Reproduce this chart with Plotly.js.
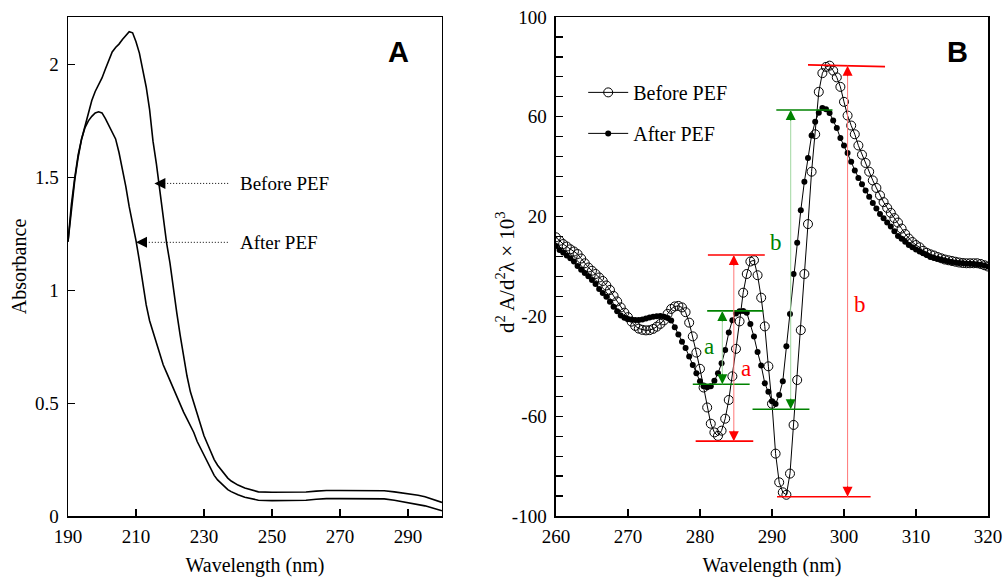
<!DOCTYPE html>
<html>
<head>
<meta charset="utf-8">
<script src="https://cdn.plot.ly/plotly-3.0.1.min.js"></script>
<style>html,body{margin:0;padding:0;background:#fff;}</style>
</head>
<body>
<div id="chart" style="width:1005px;height:577px;"></div>
<script>
// ---------- Panel A: absorbance spectra ----------
const absWavelength = [190,191,192,193,194,195,196,197,198,199,200,201,202,203,204,205,206,207,208,209,210,
  211,212,213,214,215,216,217,218,219,220,221,222,223,224,225,226,227,228,229,230,
  231,232,233,234,235,236,237,238,239,240,242,244,246,250,255,260,263,266,270,275,280,283,286,288,291,293,295,297,299,300];
const absBefore = [1.215,1.38,1.50,1.60,1.67,1.73,1.79,1.84,1.88,1.91,1.94,1.98,2.02,2.055,2.075,2.09,2.11,2.13,2.145,2.14,2.10,
  2.05,1.98,1.90,1.80,1.66,1.56,1.44,1.32,1.21,1.12,1.00,0.90,0.80,0.70,0.62,0.55,0.50,0.45,0.40,0.355,
  0.32,0.285,0.25,0.225,0.205,0.185,0.168,0.155,0.145,0.137,0.124,0.114,0.107,0.105,0.105,0.106,0.110,0.113,0.113,0.113,0.113,0.112,0.107,0.103,0.098,0.092,0.085,0.076,0.066,0.060];
const absAfter = [1.215,1.36,1.49,1.59,1.67,1.72,1.75,1.77,1.785,1.79,1.785,1.76,1.73,1.70,1.67,1.61,1.54,1.46,1.37,1.30,1.22,
  1.13,1.03,0.935,0.865,0.815,0.76,0.71,0.67,0.635,0.60,0.565,0.53,0.49,0.46,0.43,0.40,0.37,0.33,0.30,0.265,
  0.235,0.205,0.18,0.16,0.145,0.13,0.117,0.108,0.10,0.094,0.083,0.075,0.070,0.068,0.068,0.070,0.074,0.077,0.077,0.077,0.077,0.076,0.070,0.065,0.058,0.052,0.045,0.037,0.028,0.023];
const absXTicks = [190,210,230,250,270,290];
const absYTicks = [0,0.5,1,1.5,2];
const absYTickText = ["0","0.5","1","1.5","2"];

// ---------- Panel B: second-derivative spectra ----------
const d2Wavelength = [260,260.5,261,261.5,262,262.5,263,263.5,264,264.5,265,265.5,266,266.5,267,267.5,268,268.5,269,269.5,
  270,270.5,271,271.5,272,272.5,273,273.5,274,274.5,275,275.5,276,276.5,277,277.5,278,278.5,279,279.5,
  280,280.5,281,281.5,282,282.5,283,283.5,284,284.5,285,285.5,286,286.5,287,287.5,288,288.5,289,289.5,
  290,290.5,291,291.5,292,292.5,293,293.5,294,294.5,295,295.5,296,296.5,297,297.5,298,298.5,299,299.5,
  300,300.5,301,301.5,302,302.5,303,303.5,304,304.5,305,305.5,306,306.5,307,307.5,308,308.5,309,309.5,
  310,310.5,311,311.5,312,312.5,313,313.5,314,314.5,315,315.5,316,316.5,317,317.5,318,318.5,319,319.5,320];
const d2Before = [11.7,10.3,9.0,8.0,6.9,6.0,5.0,3.2,1.3,-0.4,-1.7,-3.0,-4.4,-5.8,-7.6,-9.4,-11.8,-14.0,-16.4,-18.5,
  -20.3,-22.1,-23.8,-24.9,-25.4,-25.6,-25.5,-25.0,-24.1,-23.0,-21.6,-19.0,-17.0,-16.0,-15.8,-16.4,-18.3,-22.5,-28.0,-34.5,
  -41.0,-48.5,-56.5,-63.0,-66.5,-67.9,-65.8,-61.0,-53.5,-44.0,-33.0,-22.0,-10.5,-3.0,2.0,2.5,-3.5,-12.5,-24.0,-40.0,
  -55.0,-75.0,-86.5,-90.5,-91.5,-83.0,-63.5,-45.5,-25.5,-3.0,17.0,38.0,53.0,70.0,77.5,80.0,80.5,78.5,75.8,72.0,
  66.0,60.5,56.5,53.0,48.5,44.8,41.5,38.0,34.5,31.5,28.5,25.8,23.5,21.5,19.4,17.6,15.2,13.0,11.2,9.8,
  8.6,7.7,6.3,5.5,4.9,4.4,3.8,3.3,2.8,2.5,2.2,1.9,1.6,1.4,1.3,1.3,1.3,1.3,1.0,0.5,0.0];
const d2After = [8.2,6.6,5.6,4.4,3.3,2.0,0.2,-1.3,-2.6,-3.9,-5.4,-7.0,-9.0,-10.6,-12.1,-14.1,-16.1,-17.9,-19.6,-20.5,
  -21.0,-21.3,-21.4,-21.4,-21.2,-20.8,-20.4,-20.1,-19.9,-19.8,-20.1,-20.6,-21.6,-24.3,-27.3,-30.2,-32.7,-36.1,-39.5,-42.8,
  -46.0,-48.0,-48.4,-48.0,-45.8,-42.8,-38.8,-33.5,-26.5,-21.5,-18.8,-17.9,-17.8,-18.5,-23.0,-28.1,-34.3,-39.7,-46.8,-50.2,
  -54.0,-55.1,-51.5,-46.0,-32.0,-19.0,-3.0,9.5,22.5,34.0,43.5,52.5,58.0,61.6,63.5,63.0,61.5,58.5,55.5,51.5,
  48.5,45.5,42.0,38.5,35.5,33.0,30.5,28.0,25.5,23.2,21.0,19.3,17.6,16.0,14.1,12.2,11.1,9.9,8.6,7.7,
  6.8,6.0,5.3,4.6,3.8,3.4,3.1,2.8,2.4,2.1,1.8,1.6,1.4,1.3,1.2,1.1,1.0,0.9,0.7,0.4,0.0];
const d2XTicks = [260,270,280,290,300,310,320];
const d2YTicks = [-100,-60,-20,20,60,100];
const d2YTickText = ["-100","-60","-20","20","60","100"];

// Peak-to-trough measurement markers (a and b) for each spectrum
const redLevels = [ {x0:281.1,x1:289.0,y0:4.6,y1:4.6}, {x0:279.4,x1:287.4,y0:-70.0,y1:-70.0},
                    {x0:295.0,x1:305.7,y0:80.8,y1:80.1}, {x0:290.7,x1:303.7,y0:-92.3,y1:-92.3} ];
const greenLevels = [ {x0:281.0,x1:288.8,y0:-17.8,y1:-17.8}, {x0:279.0,x1:286.9,y0:-47.2,y1:-47.2},
                      {x0:290.6,x1:298.4,y0:62.7,y1:62.7}, {x0:287.3,x1:295.2,y0:-57.2,y1:-57.2} ];
const redArrows = [ {x:284.7, top:4.6, bottom:-70.0}, {x:300.5, top:80.5, bottom:-92.3} ];
const greenArrows = [ {x:283.1, top:-17.8, bottom:-47.2}, {x:292.6, top:62.7, bottom:-57.2} ];
const redLabels = [ {x:286.4, y:-40.7, t:"a"}, {x:302.2, y:-15.4, t:"b"} ];
const greenLabels = [ {x:281.3, y:-31.9, t:"a"}, {x:290.6, y:9.8, t:"b"} ];

const SERIF = "Liberation Serif";
const SANS = "Liberation Sans";
const RED = "rgb(255,0,0)", GREEN = "rgb(0,130,0)";
const LIGHTRED = "rgb(255,120,120)", LIGHTGREEN = "rgb(160,215,160)";

const traces = [
  {x: absWavelength, y: absBefore, xaxis:"x", yaxis:"y", mode:"lines", line:{color:"black", width:1.6}, showlegend:false, name:"Before PEF"},
  {x: absWavelength, y: absAfter, xaxis:"x", yaxis:"y", mode:"lines", line:{color:"black", width:1.6}, showlegend:false, name:"After PEF"},
  {x: d2Wavelength, y: d2After, xaxis:"x2", yaxis:"y2", mode:"lines+markers", name:"After PEF", legendgroup:"g2", legendrank:2,
   line:{color:"black", width:1}, marker:{symbol:"circle", size:6, color:"black"}},
  {x: d2Wavelength, y: d2Before, xaxis:"x2", yaxis:"y2", mode:"lines+markers", name:"Before PEF", legendgroup:"g1", legendrank:1,
   line:{color:"black", width:1}, marker:{symbol:"circle-open", size:9, color:"black", line:{width:1, color:"black"}}}
];

const shapes = [];
const annotations = [];

// Panel A arrows (dotted leader + filled head)
const aArrows = [ {tip:215.4, tail:237.2, y:1.473, label:"Before PEF"}, {tip:210.0, tail:237.2, y:1.212, label:"After PEF"} ];
aArrows.forEach(a => {
  shapes.push({type:"line", xref:"x", yref:"y", x0:a.tip+2, x1:a.tail, y0:a.y, y1:a.y, line:{color:"black", width:1, dash:"1px,2px"}});
  annotations.push({xref:"x", yref:"y", x:a.tip, y:a.y, ax:10, ay:0, text:"", showarrow:true, arrowhead:2, arrowsize:2.2, arrowwidth:1, arrowcolor:"black"});
  annotations.push({xref:"x", yref:"y", x:a.tail+2.8, y:a.y, xanchor:"left", yanchor:"middle", text:a.label, showarrow:false, font:{family:SERIF, size:19, color:"black"}});
});

redLevels.forEach(l => shapes.push({type:"line", xref:"x2", yref:"y2", x0:l.x0, x1:l.x1, y0:l.y0, y1:l.y1, line:{color:RED, width:1.6}}));
greenLevels.forEach(l => shapes.push({type:"line", xref:"x2", yref:"y2", x0:l.x0, x1:l.x1, y0:l.y0, y1:l.y1, line:{color:GREEN, width:1.6}}));
function vArrow(a, lineColor, headColor) {
  shapes.push({type:"line", xref:"x2", yref:"y2", x0:a.x, x1:a.x, y0:a.top, y1:a.bottom, line:{color:lineColor, width:1}});
  annotations.push({xref:"x2", yref:"y2", x:a.x, y:a.top, ax:0, ay:12, text:"", showarrow:true, arrowhead:2, arrowsize:2, arrowwidth:1, arrowcolor:headColor});
  annotations.push({xref:"x2", yref:"y2", x:a.x, y:a.bottom, ax:0, ay:-12, text:"", showarrow:true, arrowhead:2, arrowsize:2, arrowwidth:1, arrowcolor:headColor});
}
redArrows.forEach(a => vArrow(a, LIGHTRED, RED));
greenArrows.forEach(a => vArrow(a, LIGHTGREEN, GREEN));
redLabels.forEach(l => annotations.push({xref:"x2", yref:"y2", x:l.x, y:l.y, text:l.t, showarrow:false, font:{family:SERIF, size:23, color:RED}}));
greenLabels.forEach(l => annotations.push({xref:"x2", yref:"y2", x:l.x, y:l.y, text:l.t, showarrow:false, font:{family:SERIF, size:23, color:GREEN}}));

// Panel letters
annotations.push({xref:"x", yref:"y", x:287.3, y:2.055, text:"<b>A</b>", showarrow:false, font:{family:SANS, size:29, color:"black"}});
annotations.push({xref:"x2", yref:"y2", x:315.7, y:86, text:"<b>B</b>", showarrow:false, font:{family:SANS, size:29, color:"black"}});

// Panel B y-axis title (placed as rotated text beside the tick labels)
annotations.push({xref:"paper", yref:"paper", x:(505-68)/920, y:(516-272)/499, xanchor:"center", yanchor:"middle", textangle:-90,
  text:"d<sup>2</sup> A/d<sup>2</sup>λ × 10<sup>3</sup>", showarrow:false, font:{family:SERIF, size:21, color:"black"}});

const axisCommon = {showline:true, mirror:true, linecolor:"black", linewidth:1.5, ticks:"inside", ticklen:7, tickwidth:1.2, tickcolor:"black",
  showgrid:false, zeroline:false, tickfont:{family:SERIF, size:19, color:"black"}};

const layout = {
  width:1005, height:577,
  margin:{l:68, r:17, t:17, b:61},
  paper_bgcolor:"white", plot_bgcolor:"white",
  font:{family:SERIF, color:"black"},
  xaxis: Object.assign({}, axisCommon, {domain:[0,0.4065], range:[190,300], tickmode:"array", tickvals:absXTicks, ticklabelstandoff:3,
    title:{text:"Wavelength (nm)", font:{family:SERIF, size:20}, standoff:12}}),
  yaxis: Object.assign({}, axisCommon, {range:[0,2.21], tickmode:"array", tickvals:absYTicks, ticktext:absYTickText, ticklabelstandoff:4,
    title:{text:"Absorbance", font:{family:SERIF, size:20}, standoff:3}}),
  xaxis2: Object.assign({}, axisCommon, {domain:[0.5304,1], anchor:"y2", range:[260,320], tickmode:"array", tickvals:d2XTicks, ticklabelstandoff:3,
    title:{text:"Wavelength (nm)", font:{family:SERIF, size:20}, standoff:12}}),
  yaxis2: Object.assign({}, axisCommon, {anchor:"x2", range:[-100,100], tickmode:"array", tickvals:d2YTicks, ticktext:d2YTickText, ticklabelstandoff:4,
    minor:{tickmode:"linear", tick0:-100, dtick:8, ticks:"inside", ticklen:7, tickwidth:1.2, tickcolor:"black", showgrid:false}}),
  showlegend:true,
  legend:{x:0.56, y:0.888, xanchor:"left", yanchor:"top", bgcolor:"rgba(0,0,0,0)", borderwidth:0,
    font:{family:SERIF, size:20, color:"black"}, traceorder:"grouped", tracegroupgap:12, itemwidth:40},
  shapes: shapes,
  annotations: annotations
};

Plotly.newPlot("chart", traces, layout, {displayModeBar:false, staticPlot:true});
</script>
</body>
</html>
